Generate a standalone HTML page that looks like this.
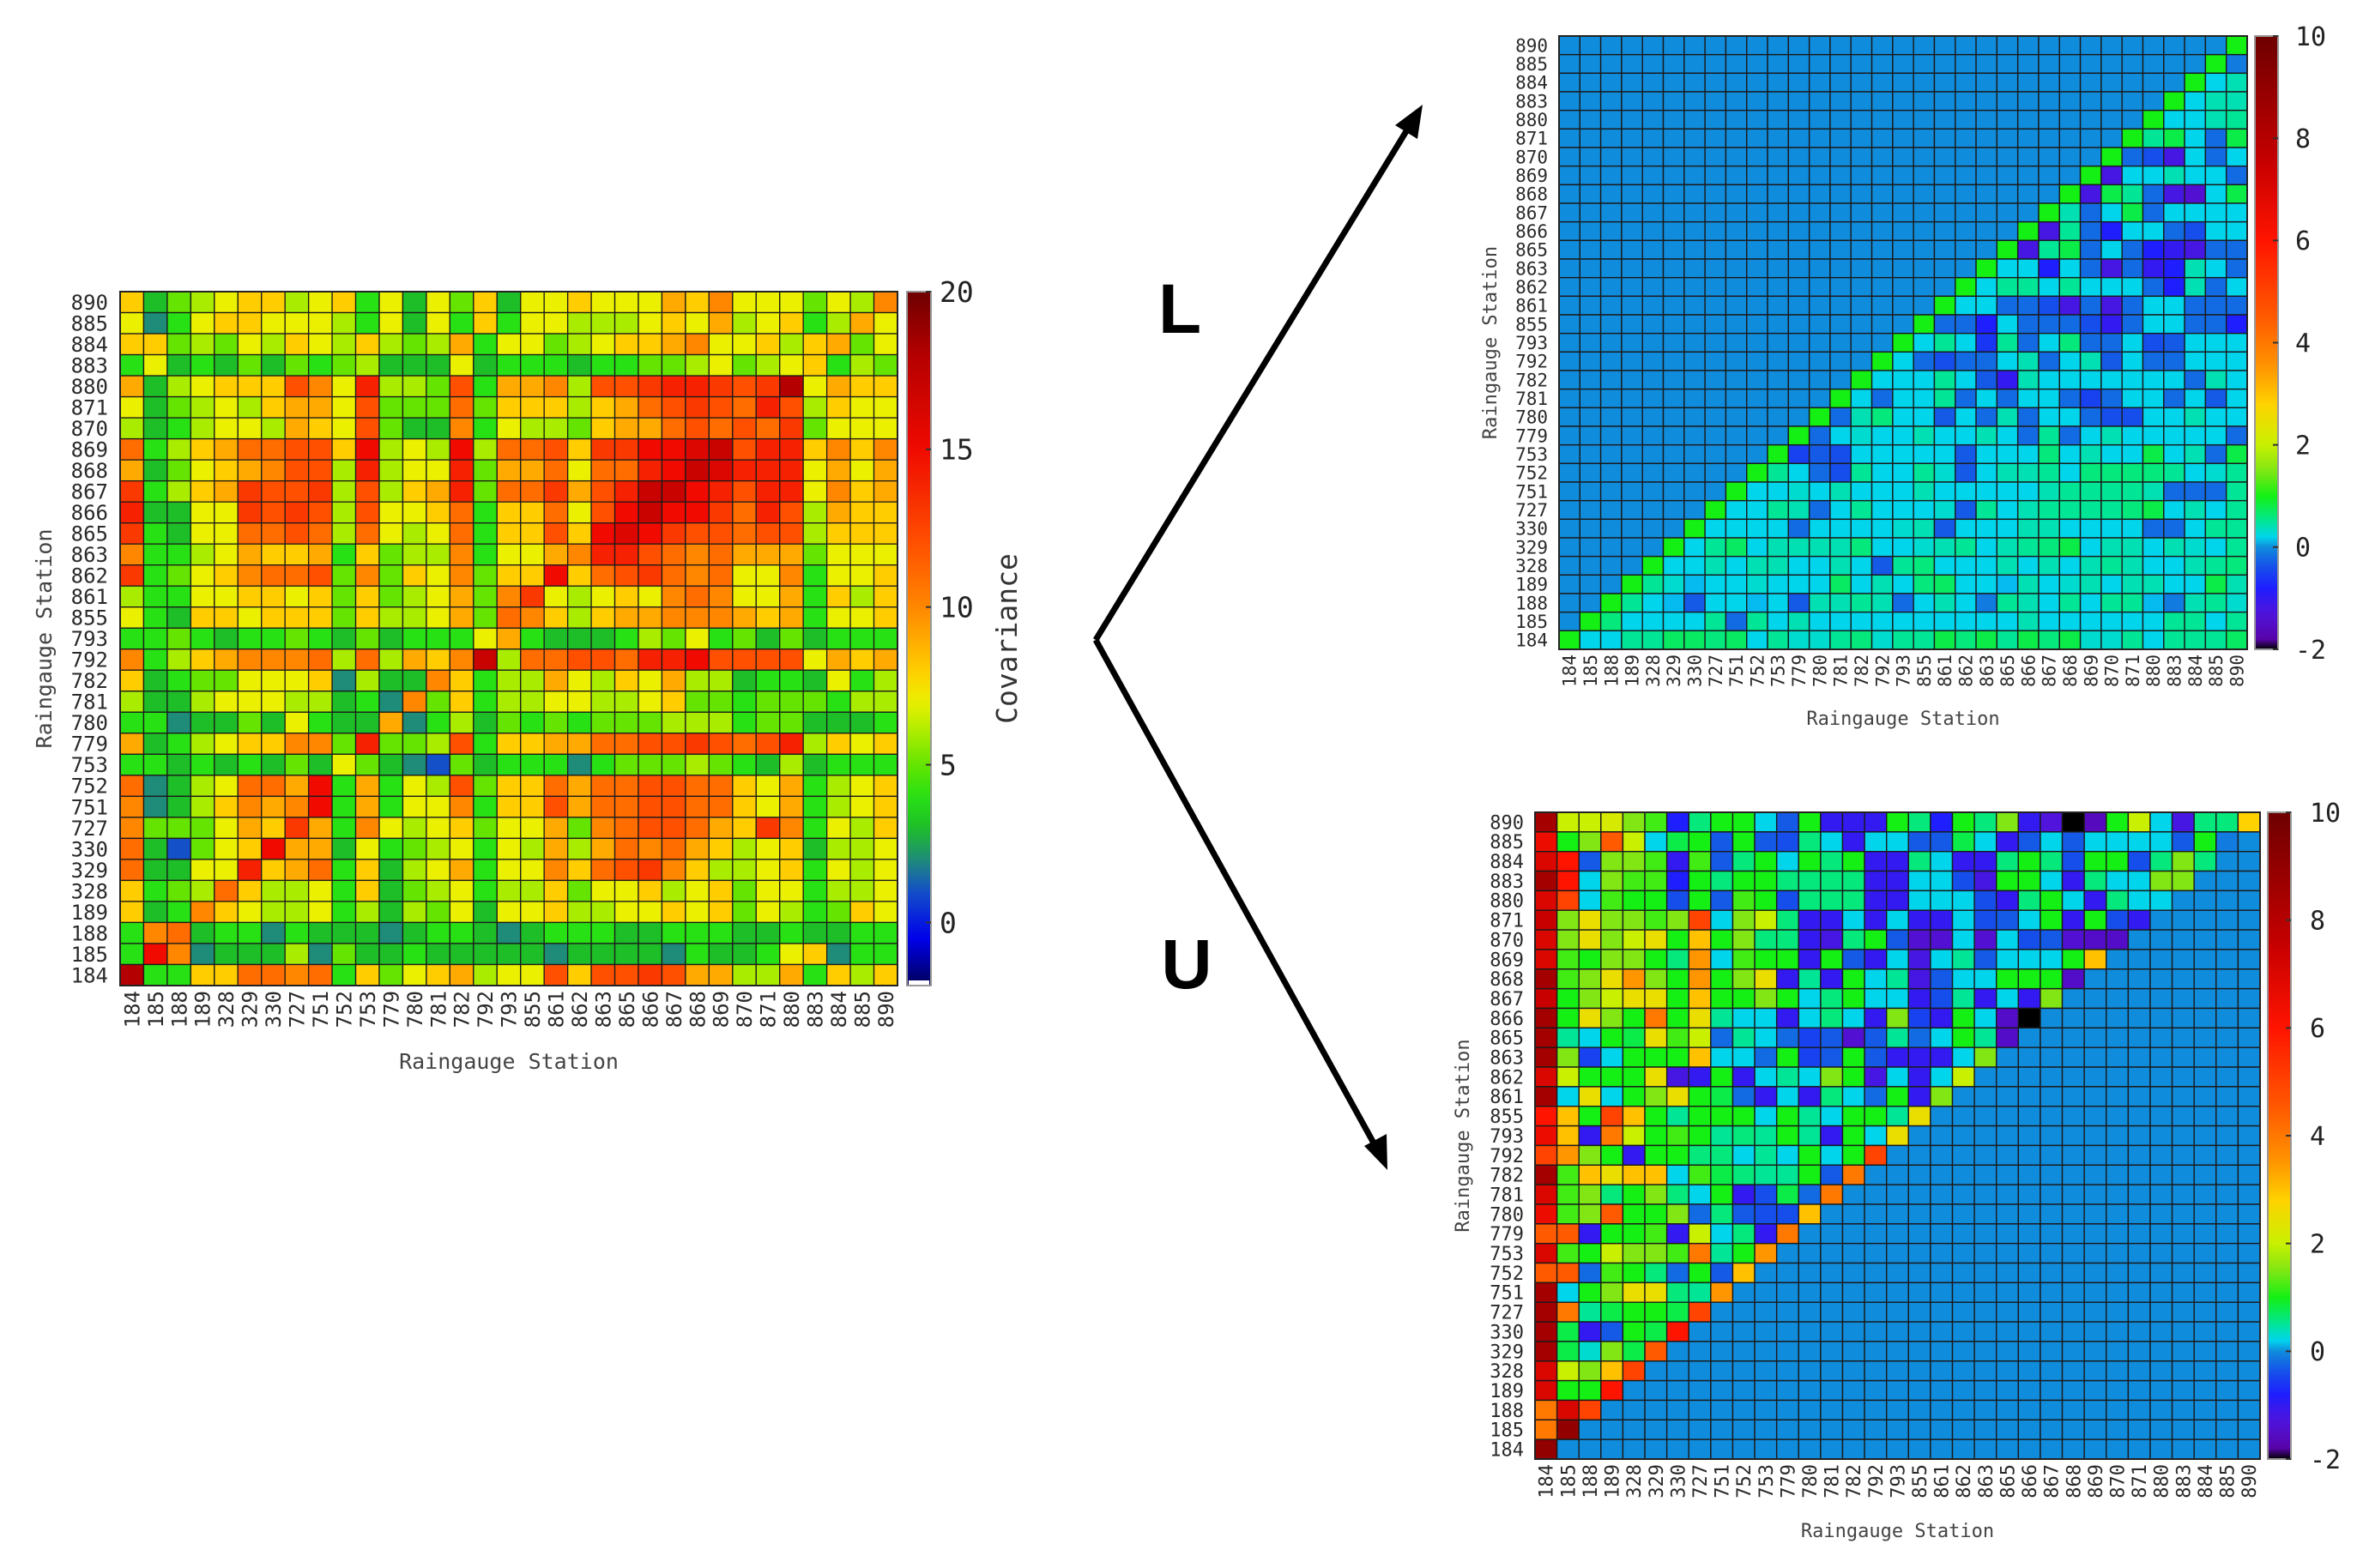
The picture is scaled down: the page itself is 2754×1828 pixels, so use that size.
<!DOCTYPE html>
<html><head><meta charset="utf-8">
<style>
html,body{margin:0;padding:0;background:#fff;}
svg{display:block;}
text{font-family:"DejaVu Sans Mono","Liberation Mono",monospace;}
</style></head>
<body>
<svg id="fig" xmlns="http://www.w3.org/2000/svg" width="2754" height="1828" viewBox="0 0 2754 1828">
<rect width="2754" height="1828" fill="#fff"/>
<g id="cov"></g>
<g id="lmat"></g>
<g id="umat"></g>
<g stroke="#000" stroke-width="7" fill="none">
  <line x1="1277" y1="746" x2="1642" y2="148"/>
  <line x1="1277" y1="746" x2="1604" y2="1338"/>
</g>
<polygon points="1658,122 1626,146 1652,162" fill="#000"/>
<polygon points="1617,1364 1590,1336 1616,1322" fill="#000"/>
<text x="1375" y="388" font-size="82" font-weight="bold" text-anchor="middle" style="font-family:'Liberation Sans',sans-serif" fill="#000">L</text>
<text x="1383" y="1152" font-size="82" font-weight="bold" text-anchor="middle" style="font-family:'Liberation Sans',sans-serif" fill="#000">U</text>
</svg>
<script>
const yStations = ["890","885","884","883","880","871","870","869","868","867","866","865","863","862","861","855","793","792","782","781","780","779","753","752","751","727","330","329","328","189","188","185","184"];
const xStations = ["184","185","188","189","328","329","330","727","751","752","753","779","780","781","782","792","793","855","861","862","863","865","866","867","868","869","870","871","880","883","884","885","890"];
const covTicks = [0,5,10,15,20];
const luTicks = [-2,0,2,4,6,8,10];

// covariance rows, top (890) to bottom (184), columns 184..890
const covRows = [
[8,3,5,6,7,8,8,6,7,8,4,7,3,7,5,8,3,7,7,8,7,7,7,9,8,10,7,7,7,5,7,6,10],
[7,2,4,7,8,8,7,7,7,6,4,7,3,7,4,8,4,7,7,6,6,6,7,8,7,9,6,7,8,4,6,9,7],
[8,8,5,6,5,7,6,8,7,6,8,6,5,6,9,4,7,7,5,6,7,8,8,9,10,7,7,8,6,8,9,5,7],
[4,7,3,4,3,5,3,5,4,5,6,3,3,3,7,3,4,4,4,3,4,4,5,5,6,7,5,6,7,8,4,6,5],
[9,3,6,7,8,8,8,12,10,7,14,6,6,5,12,4,9,9,10,6,12,12,13,14,14,13,12,13,18,7,9,8,8],
[7,3,5,6,7,6,8,9,9,7,12,5,5,5,11,5,8,8,8,6,8,9,11,12,13,12,11,14,12,6,8,7,7],
[6,3,4,6,7,7,6,9,8,7,12,5,3,3,10,4,7,6,6,5,8,9,9,11,12,11,12,11,13,5,7,7,7],
[11,4,6,8,9,11,11,12,12,8,15,6,7,6,15,6,11,11,12,8,13,13,15,15,16,17,12,14,14,8,10,8,10],
[9,3,5,7,8,9,10,12,12,6,14,6,7,7,14,5,9,9,11,7,11,11,14,15,17,16,14,14,14,7,9,7,9],
[13,4,6,8,9,13,12,12,13,6,12,6,8,9,14,5,11,11,13,9,12,14,17,17,15,14,12,14,14,7,10,8,9],
[14,3,3,7,7,13,12,13,12,6,12,7,7,8,11,4,8,8,11,7,12,15,17,15,15,13,11,14,12,6,9,8,8],
[13,4,3,7,7,11,11,12,11,6,11,7,6,7,11,4,8,8,12,8,15,16,15,13,12,12,11,12,12,6,8,8,8],
[10,4,4,6,7,9,8,8,9,4,8,5,6,6,10,4,7,7,9,10,14,14,12,11,10,11,9,9,9,5,7,7,7],
[13,4,5,7,8,10,11,11,12,5,10,5,8,7,10,5,8,8,15,8,11,12,13,11,10,11,7,7,10,4,7,7,8],
[6,4,4,7,7,8,8,7,8,5,8,5,6,7,9,5,10,13,7,6,7,8,7,10,11,10,7,7,9,4,8,6,8],
[7,4,3,8,8,7,8,8,8,5,8,6,6,7,9,5,11,10,8,6,8,9,9,10,10,10,9,8,9,4,7,7,8],
[4,4,5,4,3,4,4,5,4,3,5,3,4,4,4,7,9,4,3,3,3,4,6,5,7,4,5,3,5,3,4,4,4],
[10,4,6,8,9,10,10,10,11,6,11,6,9,8,10,17,6,11,11,12,12,11,14,14,15,12,12,12,12,7,9,8,9],
[8,3,4,5,5,7,7,7,8,2,6,3,3,10,8,4,6,6,9,7,6,8,7,9,6,6,3,4,4,3,7,4,6],
[6,3,3,6,7,7,7,6,6,3,4,2,10,5,8,4,6,6,7,7,6,6,7,8,5,5,4,5,5,5,4,6,6],
[4,4,2,3,3,5,3,7,4,3,3,9,2,4,6,3,5,4,5,4,5,5,5,6,6,6,4,5,5,3,3,3,4],
[9,3,4,6,7,8,8,10,10,5,14,5,5,6,12,4,8,8,9,9,11,11,12,12,13,12,11,12,14,6,8,7,8],
[4,4,3,4,3,4,3,5,3,7,5,3,2,1,5,3,4,4,4,2,4,5,5,5,6,5,4,3,6,3,4,4,4],
[11,2,3,6,7,11,11,9,15,4,9,4,7,6,12,5,8,8,11,9,11,11,12,12,11,11,8,7,9,4,6,7,8],
[10,2,3,6,8,10,9,10,15,4,9,4,7,7,10,4,8,8,12,9,11,11,12,12,11,11,8,7,9,4,6,7,8],
[10,5,5,5,7,9,8,13,9,4,10,7,6,7,8,5,7,7,9,5,10,11,12,12,11,9,8,13,10,4,7,6,8],
[11,3,1,5,7,8,15,9,9,3,7,4,5,6,7,4,7,6,9,6,9,11,10,11,9,8,6,7,8,3,6,6,7],
[11,3,3,7,7,14,8,9,11,4,8,3,6,7,9,4,7,7,10,8,11,12,13,10,8,6,6,7,8,4,7,6,7],
[8,4,5,6,11,8,6,6,7,4,8,3,5,6,7,4,6,6,8,5,7,7,8,6,7,8,5,7,7,4,6,6,7],
[8,3,4,10,8,7,6,6,7,4,6,3,6,5,7,3,7,7,8,6,6,7,7,8,7,8,5,7,6,4,5,8,7],
[4,10,11,3,4,4,2,4,3,3,3,2,3,4,4,3,2,3,4,4,4,3,3,4,4,4,3,3,4,3,3,4,4],
[4,15,10,2,3,3,3,6,2,5,3,3,4,3,3,3,3,3,2,3,3,3,3,2,4,3,3,4,7,8,2,4,4],
[18,4,4,8,8,11,11,10,11,4,8,5,7,8,9,6,7,7,12,8,12,12,13,12,9,9,6,6,9,4,8,6,8]
];

// L factor: row for station index i (0=184) holds columns i..32
const lRows = [
[1.0,.2,.2,.5,.5,.7,.7,.6,.7,.2,.5,.3,.3,.5,.6,.3,.5,.5,.8,.6,.8,.5,.8,.6,.8,.3,.3,.5,.2,.5,.5,.5,.7],
[1.0,.6,.2,.2,.2,.2,.5,-.2,.5,.2,.4,.2,.2,.2,.2,.2,.2,.2,.2,.2,.2,.4,.2,.2,.2,.2,.2,.2,.5,.5,.2,.5],
[1.0,.5,.2,.1,-.3,.2,.2,.1,.2,-.3,.4,.4,.5,.4,-.2,.2,.4,.2,-.1,.5,.4,.2,.5,.2,.5,.5,.1,-.1,.4,.5,.3],
[1.0,.5,.3,.1,.2,.2,.3,.2,.2,.2,.7,.2,.4,.2,.6,.7,.2,.2,.1,.4,.2,.3,.4,.2,.4,.4,.2,.2,.8,.4],
[1.0,.2,.2,.4,.2,.4,.4,.2,.2,.4,.2,-.3,.5,.6,.2,.2,.2,.4,.2,.4,.2,.4,.5,.4,.2,.2,.4,.5,.6],
[1.0,.2,.5,.7,.2,.4,.4,.4,.4,.6,.2,.2,.3,.4,.5,.2,.4,.5,.6,.8,.2,.4,.4,.2,.4,.3,.2,.5],
[1.0,.2,.2,.2,.2,-.2,.2,.2,.2,.2,.3,.4,-.3,.2,.2,.2,.4,.4,.2,.2,.2,.2,-.2,-.2,.2,.5,.5],
[1.0,.2,.2,.5,.4,-.2,.2,.5,.2,.2,.2,.3,-.3,.5,.2,.4,.5,.5,.5,.5,.6,.8,.2,.4,.2,.5],
[1.0,.2,.2,.3,.2,.4,.2,.2,.2,.4,.2,.2,.2,.2,.2,.4,.5,.5,.5,.5,.4,-.2,-.2,-.2,.5],
[1.0,.5,.2,-.2,-.4,.5,.2,.2,.5,.3,-.3,.2,.4,.4,.5,.2,.6,.6,.6,.6,.5,.2,.3,.5],
[1.0,-.5,-.3,-.4,.2,.2,.2,.2,.2,-.3,.2,.2,.2,.6,.2,.4,.2,.2,.8,.2,.4,-.2,.8],
[1.0,-.2,.2,.3,.2,.2,.4,.2,.2,.4,.2,-.2,.5,-.2,.2,.4,.2,.2,.2,.2,.2,-.2],
[1.0,-.2,.4,.6,.2,.2,-.3,.2,-.2,.4,-.2,.2,.2,-.2,-.4,-.4,.2,.2,.4,.2,.2],
[1.0,.2,-.2,.2,.2,.5,-.2,.2,-.2,.2,.2,-.2,-.5,-.2,.2,.2,-.2,.2,-.3,.2],
[1.0,.2,.2,.2,.5,.2,-.3,-1,.4,.2,.2,.2,.2,.2,.2,.2,-.2,.4,.2],
[1.0,.2,-.2,-.4,-.2,-.2,.2,.4,-.2,.2,.4,-.3,.2,-.2,-.2,.2,.2,.2],
[1.0,.2,.5,.2,-.6,.5,-.2,.2,.6,-.2,-.2,.2,-.4,-.3,.2,.2,.2],
[1.0,-.2,-.2,-.8,.2,-.2,-.2,-.2,-.4,-1,-.2,.2,.2,-.2,-.2,-.8],
[1.0,.2,.2,-.2,-.2,-.4,-1.2,-.2,-1.2,-.2,.2,.2,-.2,-.2,-.2],
[1.0,.2,.5,.5,.2,.5,.2,.2,.2,-.2,-.8,.4,-.2,.2],
[1.0,.2,.2,-.8,.2,-.2,-1.2,-.2,-1,-.8,.4,.2,-.2],
[1.0,-1.2,.5,.8,-.2,.2,-.2,-.8,-1.0,-1.2,-.2,-.2],
[1.0,-1.2,.5,-.2,-.8,.2,.2,-.2,-.4,.2,.2],
[1.0,.4,-.2,.2,.8,-.2,.2,.2,.2,.2],
[1.0,-1.2,.8,.5,-.2,-1.2,-1.4,.2,.8],
[1.0,-1.2,.2,.2,.4,.2,.2,-.2],
[1.0,-.2,-.4,-1.2,.2,-.2,.2],
[1.0,.5,.8,.2,-.2,.8],
[1.0,.2,.2,.4,.5],
[1.0,.2,.4,.4],
[1.0,.2,.4],
[1.0,-.1],
[1.0]
];

// U factor: row for station index i (0=184) holds columns 0..i
const uRows = [
[9],
[4,9],
[4,7,5],
[7,1,1,6],
[7,2,1.5,3,5],
[8.5,.8,.3,1.5,.8,4.5],
[8.5,.8,-1,-.3,1,.8,6],
[8.5,4,.5,.8,1,1,.8,5],
[8.5,.2,1,1.5,2.5,2.5,.6,.5,3.5],
[4.5,4.5,-.2,1.2,1,.6,-.2,1,-.3,3],
[7,1.2,1,2,1.5,1.5,1.2,4,.5,1,3.5],
[4.5,4.5,-1,1,1,1.2,-1,2,.2,.6,-1,4],
[6.5,1.2,1.5,4.5,1,1,1.5,-.2,.6,-.3,-.4,-.4,3],
[7,1.2,1.5,.6,1,1.5,.6,.2,1,-1,-.4,.8,-.2,4],
[8.5,1.2,3,2.5,3,3,.2,1.2,.8,.6,.5,.5,1,-.3,4],
[5,3.5,1.5,1,-1,1,1,.6,.6,.2,.5,.2,1,.2,1,5],
[6.5,3,-1,4,2,1,1.2,1,.5,.6,.5,1,.5,-1,1,.2,2.5],
[6,3,1,5,3,1,.5,1,1,1,.2,1,.5,.2,1,1,.5,2.5],
[8.5,.2,2.5,.2,1,1.5,2.5,1,.8,-.2,-1,.2,-1,.6,.2,-.2,1,-1,1.5],
[7,2,1,1,1,2.5,-1.2,-1,1,-1,.2,.5,.2,1.5,1,-1.2,.2,-1,.2,2],
[8.5,1.5,-.5,.2,1,1,1,3,.2,.2,-.2,1,-.5,-.3,1,-.3,-1,-1,-1,.2,1.5],
[8.5,.5,.2,1,.8,2.5,1.2,2,-.2,.5,.2,-.2,-.5,-.3,-1.4,-.3,.5,-.2,.2,1,.5,-1.5],
[8.5,1,2.5,1.5,1,4,1,2.5,.5,.2,.2,-1,.2,.6,.2,-1,1.5,-.5,-1,1,.2,-1.5,-2],
[7.5,1,1.5,2,2.5,2.5,1,3,1,1,1.5,1,.2,.6,1,.2,.2,-1,-.4,.5,-1,.2,-1,1.5],
[8.5,1.2,1.5,2.5,3.5,1.5,1,3.5,1,1.5,2.5,-1,.5,-1,1,.2,.5,-1.2,-.3,.2,.2,1,1,1,-1.5],
[7,1.2,1,1.5,1.5,1,.6,3.5,.2,1.2,1,1,-1,1,-.3,-1,.2,-1.2,.2,.5,-.3,.2,.2,.2,1,3],
[7,1.5,2.5,1.5,2,2.5,1,3,1,1.5,.6,.6,-1,-1.2,.6,1,-.3,-1.4,-1.4,.2,-1.4,.2,-.4,-.3,-1.4,-1.5,-1.5],
[7.5,1.5,2.5,1.5,1.5,1.2,1.5,5,.2,1.5,2,.6,-1,-1,.2,-1,.2,-1,-1,.2,-.4,-.3,.2,1,-1,1,-.4,-1],
[7,5,.2,1.2,1,1,-.4,1,-.3,1.2,1,-.4,.6,.6,.6,-1,-1,.2,.2,.2,-.4,-1,.6,1,.2,-1,.6,.2,.2],
[8.5,6,.2,1.5,1.2,1.2,-.8,1,.6,1,1,.6,.6,.6,.6,-1,-1,.2,.2,-.4,-1.2,1,1,.2,-1,.6,.2,.2,1.5,1.5],
[7,6,-.3,1.5,1.5,1.2,-1,1.2,-.3,.6,1,.2,1,.6,1,-1,-1,.6,.2,-1,-1,.6,1,.6,-.4,1,1,-.4,.6,1.5,.6],
[6.5,1,1.5,4.5,2,.2,.8,1,-.3,1,-.3,-.4,.6,.2,-1,.2,.2,-.3,-.3,.8,.2,-1,-.3,.2,-.3,.2,.2,.2,.2,-.3,1,-.1],
[8.5,2,2,2.2,1.5,1.2,-.8,.6,1,1,.2,-.3,1,-1,-1,-1,1,.6,-.8,1,.6,1.5,-1,-1.3,-2,-1.6,1,2,.2,-1.2,.6,.6,2.8]
];

const NS = "http://www.w3.org/2000/svg";
const covStops = [[-2,[0,0,90]],[-0.5,[0,0,235]],[1,[20,80,200]],[2,[30,140,120]],[3,[30,190,40]],[4,[40,225,20]],[5,[100,228,0]],[6,[170,236,0]],[7,[235,240,0]],[8,[255,205,0]],[10,[255,135,0]],[12,[255,80,0]],[15,[240,10,0]],[18,[180,0,0]],[20,[110,0,0]]];
const luStops = [[-2,[0,0,0]],[-1.9,[90,0,160]],[-1.3,[80,20,220]],[-0.8,[30,30,255]],[-0.3,[20,90,230]],[0,[16,140,220]],[0.15,[0,210,250]],[0.5,[0,230,150]],[1,[20,240,20]],[1.5,[130,230,20]],[2,[200,240,0]],[2.8,[255,210,0]],[3.5,[255,150,0]],[4.5,[255,90,0]],[6,[255,20,0]],[7.5,[200,0,0]],[10,[110,0,0]]];
function cmap(stops,v){
  if(v<=stops[0][0]) return 'rgb('+stops[0][1].join(',')+')';
  for(let k=1;k<stops.length;k++){
    if(v<=stops[k][0]){
      const a=stops[k-1],b=stops[k],t=(v-a[0])/(b[0]-a[0]);
      const c=a[1].map((x,i)=>Math.round(x+(b[1][i]-x)*t));
      return 'rgb('+c.join(',')+')';
    }
  }
  return 'rgb('+stops[stops.length-1][1].join(',')+')';
}
function mk(tag,attrs,parent){const e=document.createElementNS(NS,tag);for(const k in attrs)e.setAttribute(k,attrs[k]);parent.appendChild(e);return e;}

function drawHeat(g,cfg){
  const n=xStations.length;
  const cw=(cfg.x1-cfg.x0)/n, ch=(cfg.y1-cfg.y0)/n;
  const xs=c=>cfg.x0+c*cw, ys=r=>cfg.y0+r*ch;
  for(let r=0;r<n;r++){
    for(let c=0;c<n;c++){
      const v=cfg.value(r,c);
      const rc=mk('rect',{x:xs(c).toFixed(2),y:ys(r).toFixed(2),width:cw.toFixed(2),height:ch.toFixed(2),fill:cmap(cfg.stops,v),stroke:'#1a1a1a','stroke-width':cfg.sw},g);
      
      
    }
  }
  mk('rect',{x:cfg.x0,y:cfg.y0,width:cfg.x1-cfg.x0,height:cfg.y1-cfg.y0,fill:'none',stroke:'#222','stroke-width':2},g);
  for(let r=0;r<n;r++){
    const t=mk('text',{x:cfg.ylx,y:(ys(r)+ch/2+cfg.fs*0.36).toFixed(1),'font-size':cfg.fs,'text-anchor':'end',fill:'#2a2a2a'},g);
    t.textContent=yStations[r];
    
    
  }
  for(let c=0;c<n;c++){
    const cx=xs(c)+cw/2+cfg.fs*0.36, cy=cfg.y1+6;
    const t=mk('text',{x:cx.toFixed(1),y:cy,'font-size':cfg.fs,'text-anchor':'end',fill:'#2a2a2a',transform:'rotate(-90 '+cx.toFixed(1)+' '+cy+')'},g);
    t.textContent=xStations[c];
    
    
  }
  const xt=mk('text',{x:(cfg.x0+cfg.x1)/2,y:cfg.xty,'font-size':cfg.tfs,'text-anchor':'middle',fill:'#444'},g);
  xt.textContent='Raingauge Station';
  
  
  const yc=(cfg.y0+cfg.y1)/2;
  const yt=mk('text',{x:cfg.ytx,y:yc,'font-size':cfg.tfs,'text-anchor':'middle',fill:'#444',transform:'rotate(-90 '+cfg.ytx+' '+yc+')'},g);
  yt.textContent='Raingauge Station';
  
  
  const gid='grad'+cfg.id;
  const defs=mk('defs',{},g);
  const lg=mk('linearGradient',{id:gid,x1:0,y1:1,x2:0,y2:0},defs);
  const lo=cfg.cmin,hi=cfg.cmax;
  for(let k=0;k<=60;k++){const v=lo+(hi-lo)*k/60;mk('stop',{offset:(k/60).toFixed(4),'stop-color':cmap(cfg.stops,v)},lg);}
  const cb=mk('rect',{x:cfg.cbx,y:cfg.y0,width:cfg.cbw,height:cfg.y1-cfg.y0,fill:'url(#'+gid+')',stroke:'#999','stroke-width':2},g);
  
  
  if(cfg.cbWhite){mk('rect',{x:cfg.cbx+2,y:cfg.y1-6,width:cfg.cbw-4,height:5,fill:'#fff'},g);}
  const cy=v=>cfg.y1-(v-lo)/(hi-lo)*(cfg.y1-cfg.y0);
  for(const tv of cfg.ticks){
    const y=cy(tv);
    mk('line',{x1:cfg.cbx+cfg.cbw-6,x2:cfg.cbx+cfg.cbw,y1:y,y2:y,stroke:'#333','stroke-width':2},g);
    const t=mk('text',{x:cfg.cbx+cfg.cbw+cfg.cblOff,y:(y+cfg.cfs*0.36).toFixed(1),'font-size':cfg.cfs,fill:'#222'},g);
    t.textContent=String(tv);
    
    
  }
  if(cfg.cbTitle){
    const tx=cfg.cbTitleX;
    const t=mk('text',{x:tx,y:yc,'font-size':cfg.cfs,'text-anchor':'middle',fill:'#333',transform:'rotate(-90 '+tx+' '+yc+')'},g);
    t.textContent=cfg.cbTitle;
    
    
  }
}

drawHeat(document.getElementById('cov'),{id:'c',x0:140,x1:1046,y0:340,y1:1149,sw:1.3,stops:covStops,
  value:(r,c)=>covRows[r][c],ylx:126,fs:24,tfs:25,xty:1246,ytx:60,
  cbx:1057,cbw:28,cmin:-2,cmax:20,ticks:covTicks,cfs:33,cblOff:10,cbTitle:'Covariance',cbTitleX:1185,cbWhite:true});

drawHeat(document.getElementById('lmat'),{id:'l',x0:1817,x1:2619,y0:42,y1:757,sw:1.4,stops:luStops,
  value:(r,c)=>{const i=32-r;return c>=i?lRows[i][c-i]:0;},ylx:1804,fs:21,tfs:22,xty:845,ytx:1744,
  cbx:2628,cbw:27,cmin:-2,cmax:10,ticks:luTicks,cfs:30,cblOff:20,cbTitle:null});

drawHeat(document.getElementById('umat'),{id:'u',x0:1789,x1:2634,y0:947,y1:1701,sw:1.4,stops:luStops,
  value:(r,c)=>{const i=32-r;return c<=i?uRows[i][c]:0;},ylx:1776,fs:22,tfs:22,xty:1792,ytx:1712,
  cbx:2643,cbw:27,cmin:-2,cmax:10,ticks:luTicks,cfs:30,cblOff:22,cbTitle:null});
</script>
</body></html>
